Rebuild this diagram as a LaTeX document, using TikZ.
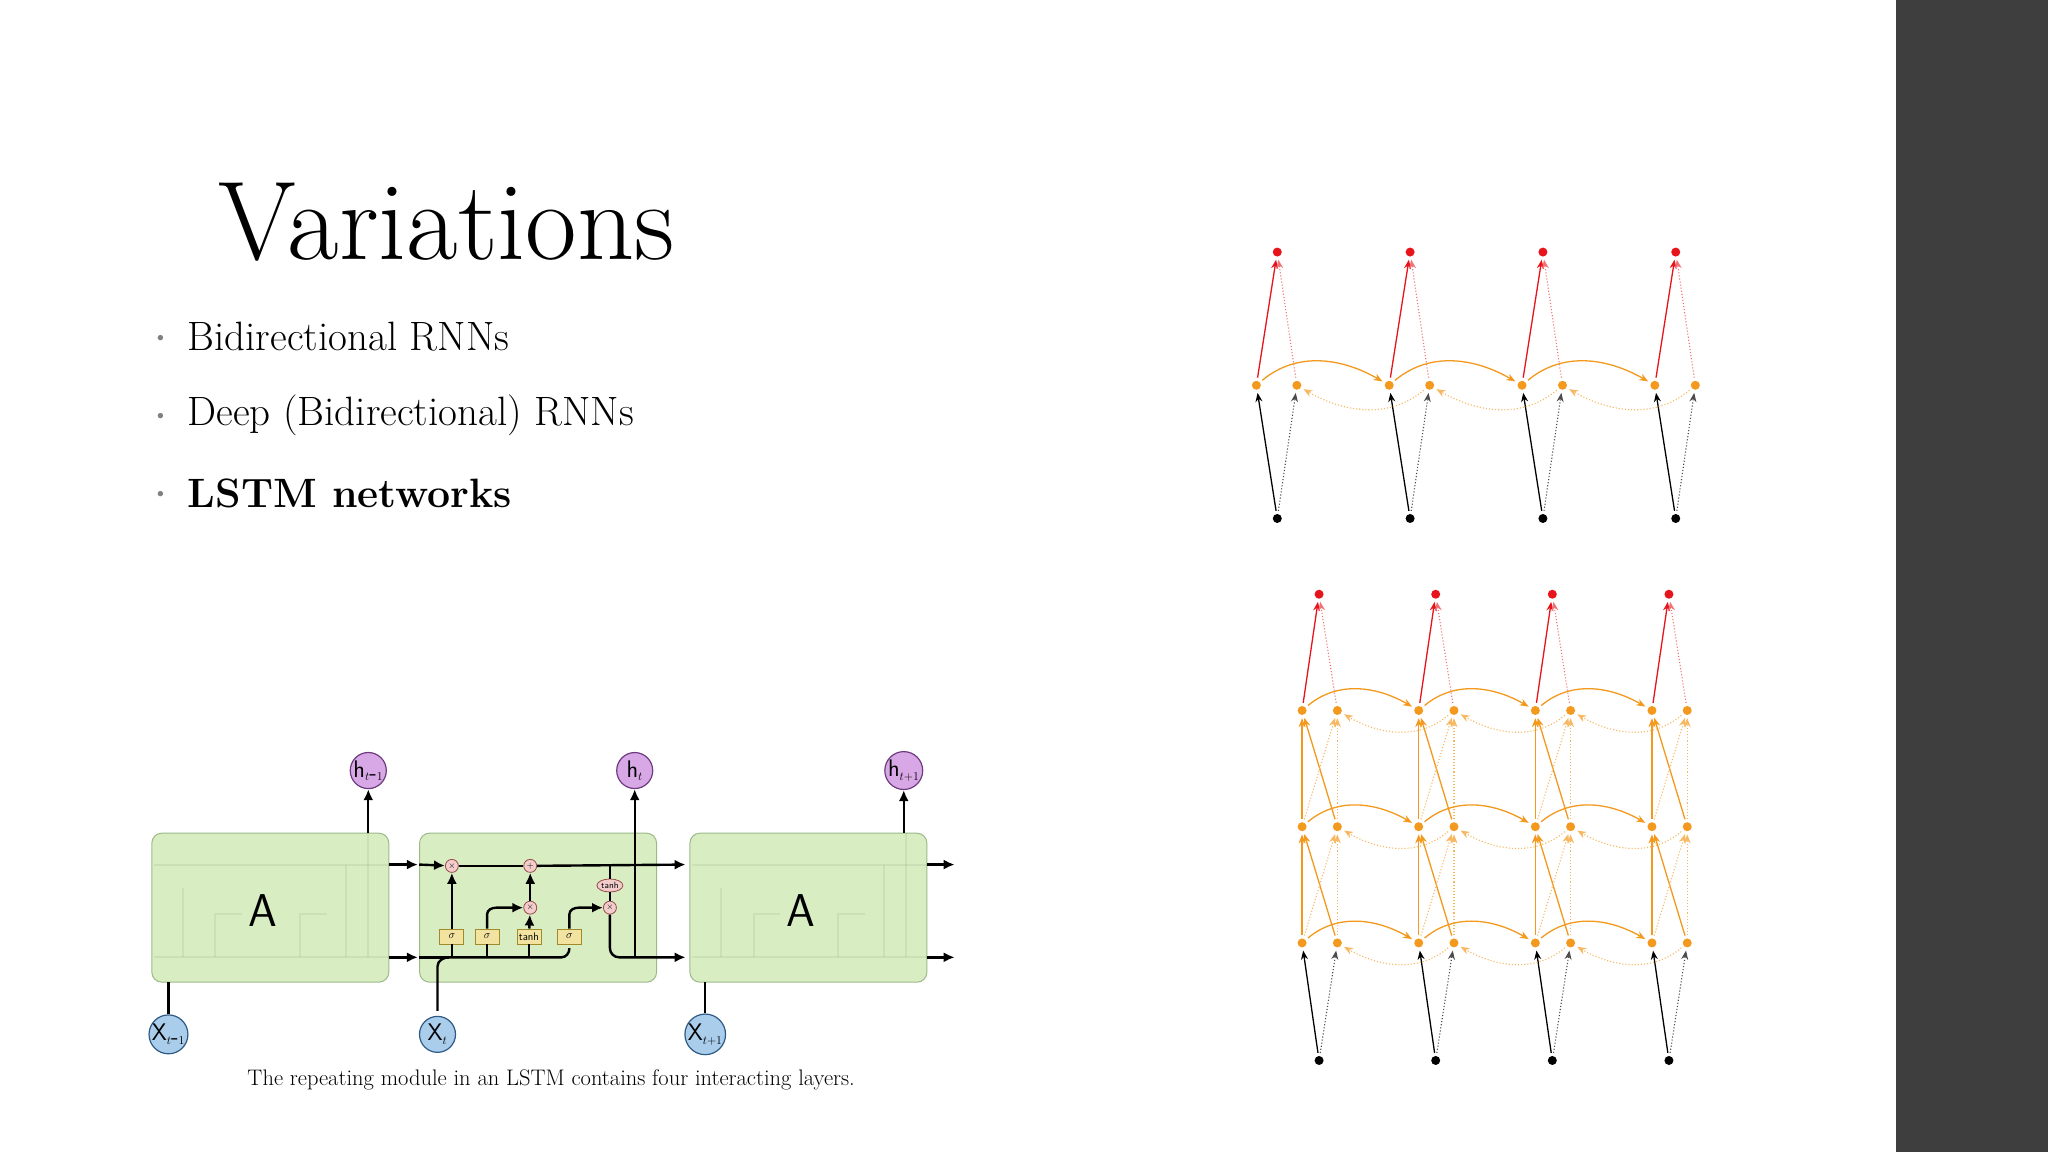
\documentclass[tikz,border=0pt]{standalone}
\usetikzlibrary{arrows.meta,shapes.geometric}
\definecolor{side}{HTML}{3E3E3E}
\definecolor{org}{HTML}{F39A1E}
\definecolor{rd}{HTML}{E8141C}
\definecolor{boxg}{HTML}{D8EEC2}
\definecolor{boxb}{HTML}{9DB98A}
\definecolor{hpur}{HTML}{D8A8E6}
\definecolor{hbor}{HTML}{6E3A80}
\definecolor{xblu}{HTML}{A9CDEB}
\definecolor{xbor}{HTML}{2E5A85}
\definecolor{gy}{HTML}{F2E3A0}
\definecolor{gyb}{HTML}{A08A2A}
\definecolor{pw}{HTML}{F3CCCC}
\definecolor{pwb}{HTML}{9A4A4A}
\tikzset{
 dotr/.style={circle,fill=rd,inner sep=0pt,minimum size=9pt},
 doto/.style={circle,fill=org,inner sep=0pt,minimum size=9pt},
 dotb/.style={circle,fill=black,inner sep=0pt,minimum size=9pt},
 tip/.style={-{Stealth[length=9pt,width=7pt]}},
 blks/.style={tip,black,line width=1.3pt,shorten >=3pt,shorten <=3pt},
 blkd/.style={tip,black!70,line width=1.1pt,dotted,shorten >=3pt,shorten <=3pt},
 reds/.style={tip,rd,line width=1.3pt,shorten >=3pt,shorten <=3pt},
 redd/.style={tip,rd!60,line width=1.1pt,dotted,shorten >=3pt,shorten <=3pt},
 ors/.style={tip,org,line width=1.3pt,shorten >=3pt,shorten <=3pt},
 ord/.style={tip,org!70,line width=1.1pt,dotted,shorten >=3pt,shorten <=3pt},
 cell/.style={draw=boxb,fill=boxg,rounded corners=10pt,line width=1pt,minimum width=237pt,minimum height=149pt,inner sep=0pt},
 hc/.style={circle,draw=hbor,fill=hpur,line width=1.2pt,minimum size=36pt,inner sep=0pt,font=\sffamily\fontsize{24}{24}\selectfont},
 xc/.style={circle,draw=xbor,fill=xblu,line width=1.2pt,minimum size=36pt,inner sep=0pt,font=\sffamily\fontsize{24}{24}\selectfont},
 gate/.style={draw=gyb,fill=gy,line width=0.8pt,minimum width=24pt,minimum height=15pt,inner sep=1pt,font=\sffamily\fontsize{11}{11}\selectfont},
 pwop/.style={circle,draw=pwb,fill=pw,line width=0.8pt,minimum size=13pt,inner sep=0pt,font=\sffamily\fontsize{9}{9}\selectfont},
 lw/.style={line width=2.4pt,black},
 la/.style={lw,-{Latex[length=11pt,width=10pt]}},
 faint/.style={line width=2pt,black,opacity=0.06},
}
\begin{document}
\begin{tikzpicture}[x=1.306pt,y=-1.306pt]
\useasboundingbox (0,0) rectangle (1568.15,882.1);
\fill[white] (0,0) rectangle (1568.15,882.1);
\fill[side] (1452,0) rectangle (1568.15,882.1);
% title and bullets
\node[font=\fontsize{112}{120}\selectfont] (title) at (342,170) {Variations};
\node[anchor=west,font=\fontsize{41}{48}\selectfont] (b1) at (141,258) {Bidirectional RNNs};
\node[anchor=west,font=\fontsize{41}{48}\selectfont] (b2) at (141,318) {Deep (Bidirectional) RNNs};
\node[anchor=west,font=\bfseries\fontsize{41}{48}\selectfont] (b3) at (141,378) {LSTM networks};
\foreach \y/\n in {260/p1,320/p2,380/p3}
  \node[text=gray,font=\fontsize{24}{24}\selectfont] (\n) at (123,\y) {\textbullet};
% bidirectional RNN
\foreach \i in {0,...,3}{
  \pgfmathsetmacro{\x}{978+101.7*\i}
  \node[dotr] (r\i) at (\x,193) {};
  \node[doto] (ol\i) at (\x-16,295) {};
  \node[doto] (or\i) at (\x+15,295) {};
  \node[dotb] (k\i) at (\x,397) {};
  \draw[blks] (k\i) -- (ol\i);
  \draw[blkd] (k\i) -- (or\i);
  \draw[reds] (ol\i) -- (r\i);
  \draw[redd] (or\i) -- (r\i);
}
\foreach \i/\j in {0/1,1/2,2/3}{
  \draw[ors] (ol\i) to[out=40,in=150] (ol\j);
  \draw[ord] (or\j) to[out=-140,in=-30] (or\i);
}
% deep bidirectional RNN
\foreach \i in {0,...,3}{
  \pgfmathsetmacro{\x}{1010+89.3*\i}
  \node[dotr] (dr\i) at (\x,455) {};
  \node[dotb] (dk\i) at (\x,812) {};
  \foreach \l/\y in {1/722,2/633,3/544}{
    \node[doto] (dl\l\i) at (\x-13,\y) {};
    \node[doto] (dq\l\i) at (\x+14,\y) {};
  }
  \draw[blks] (dk\i) -- (dl1\i);
  \draw[blkd] (dk\i) -- (dq1\i);
  \draw[reds] (dl3\i) -- (dr\i);
  \draw[redd] (dq3\i) -- (dr\i);
  \foreach \l/\m in {1/2,2/3}{
    \draw[ors] (dl\l\i) -- (dl\m\i);
    \draw[ors] (dq\l\i) -- (dl\m\i);
    \draw[ord] (dl\l\i) -- (dq\m\i);
    \draw[ord] (dq\l\i) -- (dq\m\i);
  }
}
\foreach \l in {1,2,3}{
  \foreach \i/\j in {0/1,1/2,2/3}{
    \draw[ors] (dl\l\i) to[out=40,in=150] (dl\l\j);
    \draw[ord] (dq\l\j) to[out=-140,in=-30] (dq\l\i);
  }
}
% LSTM
\node[cell] (c1) at (207,695) {};
\node[cell] (c2) at (412,695) {};
\node[cell] (c3) at (619,695) {};
\node[font=\sffamily\fontsize{46}{46}\selectfont] (A1) at (201,697) {A};
\node[font=\sffamily\fontsize{46}{46}\selectfont] (A3) at (613,697) {A};
% faint internals
\foreach \o in {0,412}{
  \draw[faint] (118+\o,662) -- (298+\o,662);
  \draw[faint] (118+\o,733) -- (298+\o,733);
  \draw[faint] (140+\o,733) -- (140+\o,680);
  \draw[faint] (165+\o,733) -- (165+\o,700) -- (185+\o,700);
  \draw[faint] (230+\o,733) -- (230+\o,700) -- (250+\o,700);
  \draw[faint] (265+\o,662) -- (265+\o,733);
  \draw[faint] (282+\o,638) -- (282+\o,733);
}
\node[hc] (h1) at (282,590) {h$_{\scriptscriptstyle t\mbox{-}1}$};
\node[hc] (h2) at (486,590) {h$_{\scriptscriptstyle t}$};
\node[hc] (h3) at (692,590) {h$_{\scriptscriptstyle t+1}$};
\node[xc] (x1) at (129,792) {X$_{\scriptscriptstyle t\mbox{-}1}$};
\node[xc] (x2) at (335,792) {X$_{\scriptscriptstyle t}$};
\node[xc] (x3) at (540,792) {X$_{\scriptscriptstyle t+1}$};
\coordinate (t1) at (282,638); \coordinate (t3) at (692,638);
\draw[la] (t1) -- (h1);
\draw[la] (t3) -- (h3);
\draw[lw] (x1) -- (129,752);
\draw[lw] (x3) -- (540,752);
% arrows between cells
\draw[la] (298,662) -- (320,662);
\draw[la] (298,733) -- (320,733);
\draw[la] (710,662) -- (731,662);
\draw[la] (710,733) -- (731,733);
% internals of cell 2
\node[gate] (g1) at (346,717) {$\sigma$};
\node[gate] (g2) at (373,717) {$\sigma$};
\node[gate] (g3) at (405,717) {tanh};
\node[gate] (g4) at (436,717) {$\sigma$};
\node[pwop] (m1) at (346,663) {$\times$};
\node[pwop] (p1) at (406,663) {+};
\node[pwop] (m2) at (406,695) {$\times$};
\node[pwop] (m3) at (467,695) {$\times$};
\node[pwop,ellipse,minimum width=26pt,minimum height=13pt] (th) at (467,678) {tanh};
\draw[la] (321,662) -- (m1);
\draw[lw] (m1) -- (p1);
\draw[la] (p1) -- (525,662);
\draw[lw] (335,774) -- (335,740) to[out=90,in=180] (344,733) -- (430,733) to[out=0,in=-90] (436,726);
\draw[lw] (321,733) -- (344,733);
\draw[lw] (g1.south) -- (346,733); \draw[lw] (g2.south) -- (373,733); \draw[lw] (g3.south) -- (405,733);
\draw[la] (g1) -- (m1);
\draw[la] (g2) -- (373,700) to[out=90,in=180] (380,695) -- (m2);
\draw[la] (g3) -- (m2);
\draw[la] (m2) -- (p1);
\draw[la] (g4) -- (436,700) to[out=90,in=180] (443,695) -- (m3);
\draw[lw] (467,662) -- (th);
\draw[lw,line width=1.5pt] (th) -- (m3);
\draw[la] (m3) -- (467,726) to[out=-90,in=180] (474,733) -- (525,733);
\coordinate (t2) at (486,733);
\draw[la] (t2) -- (h2);
\node[font=\fontsize{22.5}{24}\selectfont] (cap) at (422,827) {The repeating module in an LSTM contains four interacting layers.};
\end{tikzpicture}
\end{document}
